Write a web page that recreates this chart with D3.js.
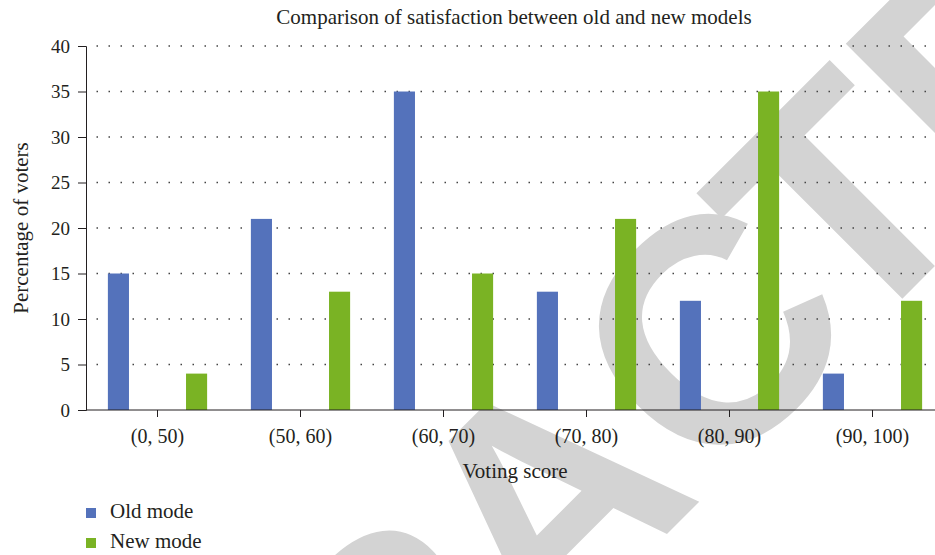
<!DOCTYPE html>
<html>
<head>
<meta charset="utf-8">
<script src="https://cdnjs.cloudflare.com/ajax/libs/d3/7.8.5/d3.min.js"></script>
<style>
  body { margin: 0; background: #fff; }
  svg { display: block; }
  text { fill: #231f20; font-family: "Liberation Serif", serif; }
</style>
</head>
<body>
<div id="chart"></div>
<script>
// data
const categories = ["(0, 50)", "(50, 60)", "(60, 70)", "(70, 80)", "(80, 90)", "(90, 100)"];
const oldMode = [15, 21, 35, 13, 12, 4];
const newMode = [4, 13, 15, 21, 35, 12];
const seriesNames = ["Old mode", "New mode"];
const yTicks = [0, 5, 10, 15, 20, 25, 30, 35, 40];

const colors = {"Old mode": "#5472bb", "New mode": "#7ab324"};

const W = 935, H = 555;
const margin = {top: 46, left: 86, bottom: 145};

const svg = d3.select("#chart").append("svg")
  .attr("width", W)
  .attr("height", H);

// grey watermark, sits behind the chart
svg.append("text")
  .attr("transform", "translate(1.5,1199.5) rotate(-45)")
  .attr("dx", "0 0 0 0 13 33 0 28 0")
  .style("font-family", "'Liberation Sans', Arial, sans-serif")
  .style("font-weight", "bold")
  .style("font-size", "320px")
  .style("letter-spacing", "-30px")
  .style("fill", "#d3d3d3")
  .text("RETRACTED");

const x = d3.scaleBand()
  .domain(categories)
  .range([margin.left, margin.left + 143 * categories.length])
  .padding(0);

const x1 = d3.scaleBand()
  .domain(seriesNames)
  .range([0, x.bandwidth()])
  .paddingInner(0.73)
  .paddingOuter(0.28);

const y = d3.scaleLinear()
  .domain([0, 40])
  .range([H - margin.bottom, margin.top]);

// dotted grid
svg.append("g")
  .selectAll("line")
  .data(yTicks.filter(d => d > 0))
  .enter()
  .append("line")
  .attr("x1", margin.left)
  .attr("x2", W)
  .attr("y1", d => y(d))
  .attr("y2", d => y(d))
  .attr("stroke", "#444")
  .attr("stroke-width", 1.5)
  .attr("stroke-dasharray", "1.5,10.5")
  .attr("stroke-dashoffset", 1.5);

// bars
const rows = categories.map((c, i) => ({cat: c, values: [
  {name: "Old mode", value: oldMode[i]},
  {name: "New mode", value: newMode[i]}
]}));

svg.append("g")
  .selectAll("g")
  .data(rows)
  .enter()
  .append("g")
  .attr("transform", d => "translate(" + x(d.cat) + ",0)")
  .selectAll("rect")
  .data(d => d.values)
  .enter()
  .append("rect")
  .attr("x", d => x1(d.name))
  .attr("width", x1.bandwidth())
  .attr("y", d => y(d.value))
  .attr("height", d => y(0) - y(d.value))
  .attr("fill", d => colors[d.name]);

// axes
const yAxis = svg.append("g")
  .attr("transform", "translate(" + margin.left + ",0)")
  .call(d3.axisLeft(y).tickValues(yTicks).tickSize(8).tickPadding(8));
yAxis.selectAll("text").style("font-size", "19px").style("font-family", "'Liberation Serif', serif");
yAxis.selectAll("line, path").attr("stroke", "#231f20");

const xAxis = svg.append("g")
  .attr("transform", "translate(0," + y(0) + ")")
  .call(d3.axisBottom(x).tickSize(7).tickSizeOuter(0).tickPadding(12));
xAxis.select(".domain").attr("d", "M" + margin.left + ",0H" + W);
xAxis.selectAll("text").style("font-size", "20px").style("font-family", "'Liberation Serif', serif");
xAxis.selectAll("line, path").attr("stroke", "#231f20");

// title and axis labels
svg.append("text")
  .attr("x", 514)
  .attr("y", 24)
  .attr("text-anchor", "middle")
  .style("font-size", "21px")
  .text("Comparison of satisfaction between old and new models");

svg.append("text")
  .attr("x", 515)
  .attr("y", 478)
  .attr("text-anchor", "middle")
  .style("font-size", "21px")
  .text("Voting score");

svg.append("text")
  .attr("transform", "translate(28," + ((y(0) + y(40)) / 2) + ") rotate(-90)")
  .attr("text-anchor", "middle")
  .style("font-size", "21px")
  .text("Percentage of voters");

// legend
const legend = svg.append("g")
  .selectAll("g")
  .data(seriesNames)
  .enter()
  .append("g")
  .attr("transform", (d, i) => "translate(86," + (508 + i * 30) + ")");

legend.append("rect")
  .attr("width", 10)
  .attr("height", 10)
  .attr("fill", d => colors[d]);

legend.append("text")
  .attr("x", 24)
  .attr("y", 10)
  .style("font-size", "21px")
  .text(d => d);
</script>
</body>
</html>
